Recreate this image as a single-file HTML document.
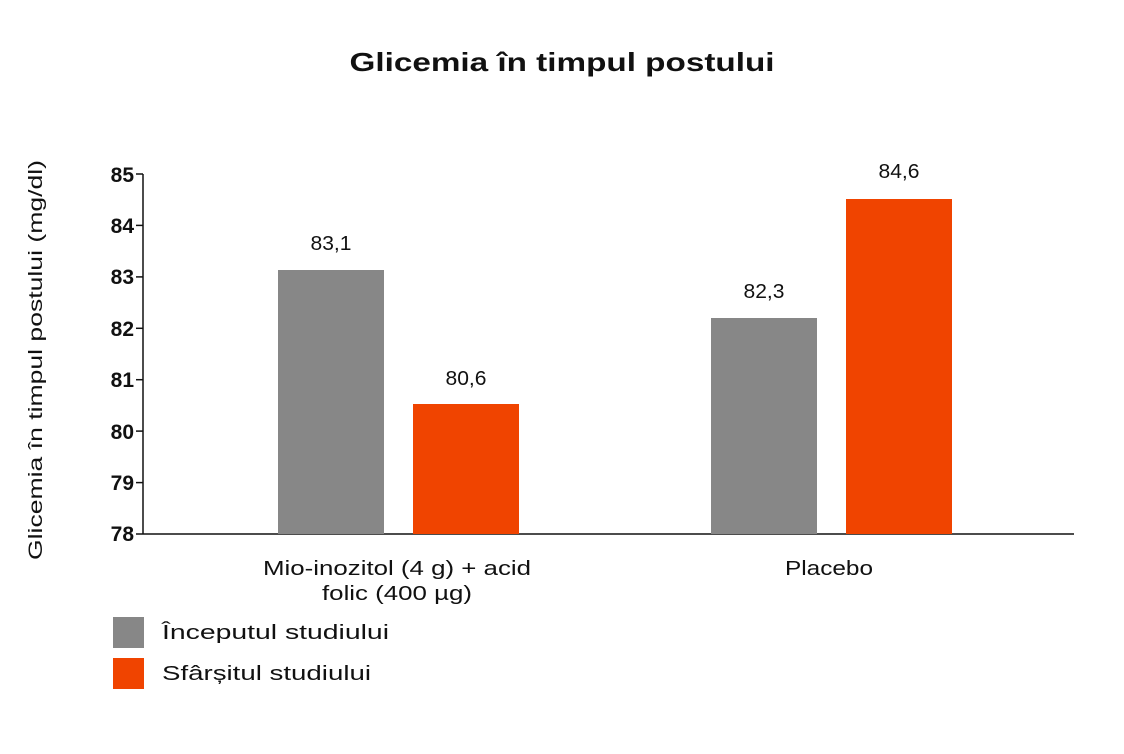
<!DOCTYPE html>
<html><head><meta charset="utf-8"><style>
html,body{margin:0;padding:0;background:#fff;}
</style></head><body>
<svg width="1124" height="749" viewBox="0 0 1124 749" xmlns="http://www.w3.org/2000/svg" font-family="Liberation Sans, sans-serif">
<rect width="1124" height="749" fill="#fff"/>
<text x="562" y="71" text-anchor="middle" font-size="26" font-weight="bold" fill="#111" textLength="425" lengthAdjust="spacingAndGlyphs">Glicemia în timpul postului</text>
<text transform="translate(42,360) rotate(-90)" text-anchor="middle" font-size="19" fill="#111" textLength="400" lengthAdjust="spacingAndGlyphs">Glicemia în timpul postului (mg/dl)</text>
<g stroke="#111" stroke-width="1.5">
<line x1="143" y1="174" x2="143" y2="534"/>
<line x1="143" y1="534" x2="1074" y2="534"/>
<line x1="136" y1="174" x2="143" y2="174"/>
<line x1="136" y1="225.4" x2="143" y2="225.4"/>
<line x1="136" y1="276.9" x2="143" y2="276.9"/>
<line x1="136" y1="328.3" x2="143" y2="328.3"/>
<line x1="136" y1="379.7" x2="143" y2="379.7"/>
<line x1="136" y1="431.1" x2="143" y2="431.1"/>
<line x1="136" y1="482.6" x2="143" y2="482.6"/>
<line x1="136" y1="534" x2="143" y2="534"/>
</g>
<g font-size="21" font-weight="bold" fill="#111" text-anchor="end">
<text x="134" y="182">85</text>
<text x="134" y="233">84</text>
<text x="134" y="284">83</text>
<text x="134" y="336">82</text>
<text x="134" y="387">81</text>
<text x="134" y="439">80</text>
<text x="134" y="490">79</text>
<text x="134" y="541">78</text>
</g>
<rect x="278" y="270" width="106" height="264" fill="#878787"/>
<rect x="413" y="404" width="106" height="130" fill="#f04400"/>
<rect x="711" y="318" width="106" height="216" fill="#878787"/>
<rect x="846" y="199" width="106" height="335" fill="#f04400"/>
<g font-size="20" fill="#111" text-anchor="middle">
<text x="331" y="250" textLength="41" lengthAdjust="spacingAndGlyphs">83,1</text>
<text x="466" y="385" textLength="41" lengthAdjust="spacingAndGlyphs">80,6</text>
<text x="764" y="298" textLength="41" lengthAdjust="spacingAndGlyphs">82,3</text>
<text x="899" y="178" textLength="41" lengthAdjust="spacingAndGlyphs">84,6</text>
<text x="397" y="575" textLength="268" lengthAdjust="spacingAndGlyphs">Mio-inozitol (4 g) + acid</text>
<text x="397" y="600" textLength="150" lengthAdjust="spacingAndGlyphs">folic (400 µg)</text>
<text x="829" y="575" textLength="88" lengthAdjust="spacingAndGlyphs">Placebo</text>
</g>
<rect x="113" y="617" width="31" height="31" fill="#878787"/>
<rect x="113" y="658" width="31" height="31" fill="#f04400"/>
<g font-size="20" fill="#111">
<text x="162" y="639" textLength="227" lengthAdjust="spacingAndGlyphs">Începutul studiului</text>
<text x="162" y="680" textLength="209" lengthAdjust="spacingAndGlyphs">Sfârșitul studiului</text>
</g>
</svg>
</body></html>
